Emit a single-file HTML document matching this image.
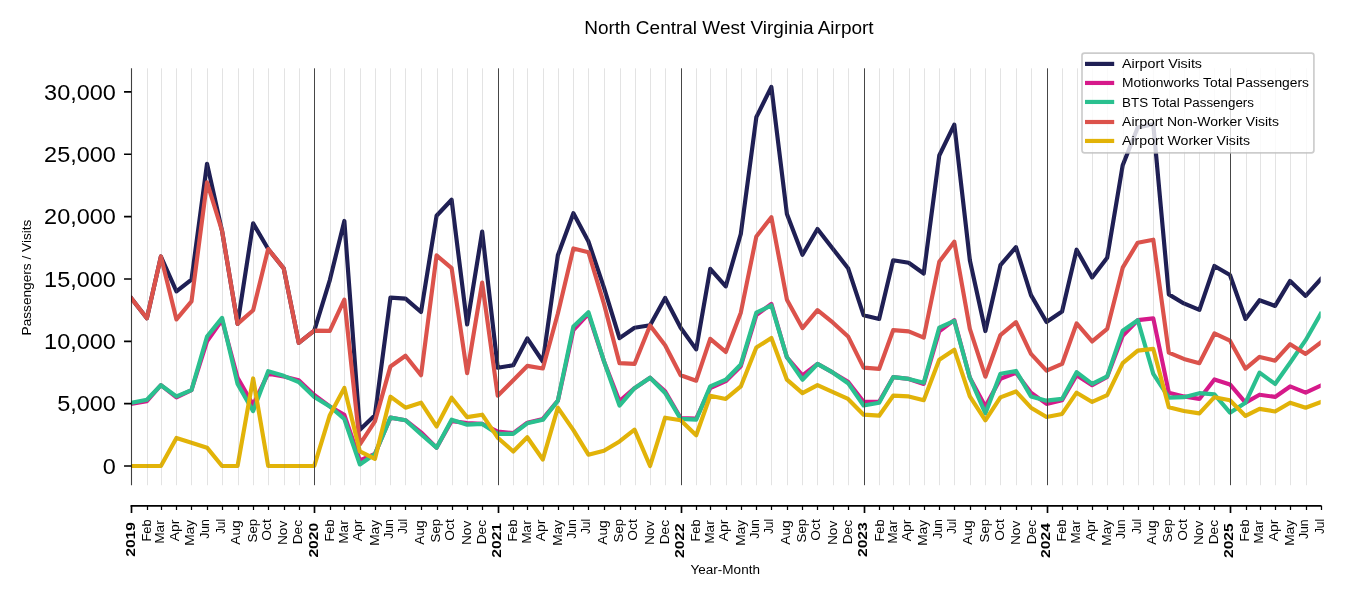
<!DOCTYPE html><html><head><meta charset="utf-8"><title>North Central West Virginia Airport</title>
<style>html,body{margin:0;padding:0;background:#fff;}svg{display:block;will-change:transform;}text{font-family:"Liberation Sans",sans-serif;fill:#000;}</style></head><body>
<svg width="1350" height="600" viewBox="0 0 1350 600">
<rect x="0" y="0" width="1350" height="600" fill="#fff"/>
<defs><clipPath id="ax"><rect x="131.34" y="68.3" width="1189.3476" height="416.9"/></clipPath></defs>
<g clip-path="url(#ax)" fill="none" stroke-width="4.17" stroke-linejoin="round" stroke-linecap="square">
<polyline points="131.34,298.26 146.88,318.21 160.91,256.48 176.45,291.40 191.48,279.68 207.02,163.83 222.06,230.92 237.59,323.82 253.13,223.31 268.17,249.00 283.70,268.33 298.74,342.78 314.28,330.68 329.82,280.05 344.35,220.94 359.89,429.82 374.92,415.23 390.46,297.57 405.50,298.63 421.03,311.98 436.57,215.71 451.61,199.75 467.14,324.45 482.18,231.67 497.72,367.72 513.25,365.22 527.29,338.41 542.83,361.48 557.86,255.24 573.40,213.21 588.43,241.52 603.97,287.66 619.51,338.16 634.54,327.69 650.08,325.19 665.12,297.95 680.66,327.69 696.19,349.39 710.23,268.83 725.76,286.41 740.80,234.04 756.34,117.19 771.37,86.89 786.91,213.96 802.45,254.74 817.48,228.93 833.02,249.00 848.06,268.21 863.59,315.22 879.13,318.96 893.16,260.23 908.70,262.72 923.74,273.44 939.27,155.48 954.31,124.68 969.85,260.23 985.38,331.05 1000.42,265.21 1015.96,247.13 1030.99,295.14 1046.53,321.95 1062.07,311.48 1076.60,249.69 1092.14,277.43 1107.18,257.73 1122.71,165.20 1137.75,127.42 1153.29,124.30 1168.82,294.39 1183.86,303.43 1199.40,309.86 1214.43,265.96 1229.97,274.94 1245.51,318.96 1259.54,300.18 1275.08,305.93 1290.11,280.93 1305.65,295.89 1320.69,279.30" stroke="#1f1f54"/>
<polyline points="131.34,403.94 146.88,401.14 160.91,385.19 176.45,397.39 191.48,390.19 207.02,341.28 222.06,320.08 237.59,377.68 253.13,404.69 268.17,373.70 283.70,376.43 298.74,380.19 314.28,394.90 329.82,406.44 344.35,414.85 359.89,460.37 374.92,453.95 390.46,417.68 405.50,420.19 421.03,432.31 436.57,447.69 451.61,421.09 467.14,422.96 482.18,423.94 497.72,431.69 513.25,433.20 527.29,422.68 542.83,418.94 557.86,400.69 573.40,330.06 588.43,313.85 603.97,361.23 619.51,401.14 634.54,388.19 650.08,377.68 665.12,391.41 680.66,417.97 696.19,418.59 710.23,388.04 725.76,381.18 740.80,366.22 756.34,315.19 771.37,303.94 786.91,357.49 802.45,375.32 817.48,363.94 833.02,372.68 848.06,381.81 863.59,401.68 879.13,401.76 893.16,377.18 908.70,378.93 923.74,383.93 939.27,331.30 954.31,320.08 969.85,377.68 985.38,406.44 1000.42,378.69 1015.96,372.69 1030.99,392.68 1046.53,403.93 1062.07,400.19 1076.60,375.19 1092.14,385.19 1107.18,376.82 1122.71,335.68 1137.75,320.18 1153.29,318.43 1168.82,392.68 1183.86,396.43 1199.40,398.93 1214.43,379.44 1229.97,384.44 1245.51,402.68 1259.54,394.69 1275.08,396.93 1290.11,386.43 1305.65,392.68 1320.69,385.69" stroke="#d6198a"/>
<polyline points="131.34,402.69 146.88,399.69 160.91,385.19 176.45,396.43 191.48,390.19 207.02,336.54 222.06,317.84 237.59,383.93 253.13,411.11 268.17,371.21 283.70,375.82 298.74,382.06 314.28,397.02 329.82,406.44 344.35,418.97 359.89,464.48 374.92,453.95 390.46,417.68 405.50,420.19 421.03,434.18 436.57,447.69 451.61,419.69 467.14,424.69 482.18,423.94 497.72,433.93 513.25,433.81 527.29,423.33 542.83,419.84 557.86,400.69 573.40,326.44 588.43,312.19 603.97,361.23 619.51,405.63 634.54,388.19 650.08,377.68 665.12,392.91 680.66,418.94 696.19,419.69 710.23,386.43 725.76,379.69 740.80,364.44 756.34,312.69 771.37,305.44 786.91,357.18 802.45,379.69 817.48,363.94 833.02,372.68 848.06,383.18 863.59,405.44 879.13,402.68 893.16,377.18 908.70,378.93 923.74,382.68 939.27,327.69 954.31,320.94 969.85,377.68 985.38,413.43 1000.42,373.70 1015.96,370.93 1030.99,396.43 1046.53,400.69 1062.07,398.93 1076.60,372.18 1092.14,383.94 1107.18,376.43 1122.71,330.68 1137.75,320.18 1153.29,373.94 1168.82,397.68 1183.86,397.18 1199.40,393.18 1214.43,394.44 1229.97,412.68 1245.51,402.68 1259.54,372.68 1275.08,383.93 1290.11,362.68 1305.65,340.18 1320.69,313.93" stroke="#2ac08f"/>
<polyline points="131.34,298.26 146.88,318.21 160.91,256.48 176.45,319.43 191.48,301.43 207.02,182.29 222.06,230.92 237.59,323.82 253.13,310.23 268.17,249.00 283.70,268.33 298.74,342.78 314.28,330.68 329.82,330.81 344.35,299.68 359.89,444.41 374.92,421.44 390.46,366.43 405.50,355.68 421.03,375.19 436.57,255.44 451.61,268.18 467.14,373.19 482.18,282.68 497.72,395.69 513.25,380.19 527.29,365.93 542.83,368.44 557.86,313.47 573.40,248.44 588.43,252.18 603.97,303.87 619.51,363.19 634.54,363.94 650.08,325.44 665.12,345.20 680.66,375.19 696.19,380.69 710.23,338.79 725.76,351.93 740.80,312.69 756.34,236.43 771.37,217.18 786.91,299.69 802.45,328.06 817.48,310.19 833.02,322.70 848.06,336.44 863.59,367.68 879.13,368.94 893.16,330.19 908.70,331.44 923.74,337.69 939.27,261.85 954.31,241.68 969.85,328.93 985.38,376.69 1000.42,335.05 1015.96,322.18 1030.99,353.94 1046.53,370.68 1062.07,363.94 1076.60,323.44 1092.14,341.43 1107.18,328.93 1122.71,267.68 1137.75,242.68 1153.29,239.69 1168.82,352.68 1183.86,358.94 1199.40,363.18 1214.43,333.44 1229.97,340.68 1245.51,368.69 1259.54,356.93 1275.08,360.68 1290.11,344.19 1305.65,353.94 1320.69,342.68" stroke="#dc524b"/>
<polyline points="131.34,465.98 146.88,465.98 160.91,465.98 176.45,437.95 191.48,442.69 207.02,447.69 222.06,465.98 237.59,465.98 253.13,378.44 268.17,465.98 283.70,465.98 298.74,465.98 314.28,465.98 329.82,415.23 344.35,387.94 359.89,451.39 374.92,458.93 390.46,396.68 405.50,407.68 421.03,402.69 436.57,426.44 451.61,397.68 467.14,417.18 482.18,414.69 497.72,437.70 513.25,451.44 527.29,437.19 542.83,459.45 557.86,407.68 573.40,430.19 588.43,454.69 603.97,450.69 619.51,441.44 634.54,429.69 650.08,465.98 665.12,417.70 680.66,420.19 696.19,435.19 710.23,395.69 725.76,398.94 740.80,386.43 756.34,347.51 771.37,337.94 786.91,379.69 802.45,393.19 817.48,385.19 833.02,392.18 848.06,398.94 863.59,414.69 879.13,415.69 893.16,395.69 908.70,396.43 923.74,400.19 939.27,359.69 954.31,349.68 969.85,396.43 985.38,420.34 1000.42,397.39 1015.96,391.43 1030.99,407.68 1046.53,416.94 1062.07,413.93 1076.60,392.68 1092.14,401.93 1107.18,395.19 1122.71,363.18 1137.75,350.68 1153.29,348.94 1168.82,407.18 1183.86,410.94 1199.40,413.43 1214.43,397.18 1229.97,400.19 1245.51,415.94 1259.54,408.93 1275.08,411.44 1290.11,402.68 1305.65,407.68 1320.69,402.18" stroke="#e2b308"/>
</g>
<path d="M147.5 68.3V485.2M161.5 68.3V485.2M176.5 68.3V485.2M191.5 68.3V485.2M207.5 68.3V485.2M222.5 68.3V485.2M238.5 68.3V485.2M253.5 68.3V485.2M268.5 68.3V485.2M284.5 68.3V485.2M299.5 68.3V485.2M330.5 68.3V485.2M344.5 68.3V485.2M360.5 68.3V485.2M375.5 68.3V485.2M390.5 68.3V485.2M405.5 68.3V485.2M421.5 68.3V485.2M437.5 68.3V485.2M452.5 68.3V485.2M467.5 68.3V485.2M482.5 68.3V485.2M513.5 68.3V485.2M527.5 68.3V485.2M543.5 68.3V485.2M558.5 68.3V485.2M573.5 68.3V485.2M588.5 68.3V485.2M604.5 68.3V485.2M620.5 68.3V485.2M635.5 68.3V485.2M650.5 68.3V485.2M665.5 68.3V485.2M696.5 68.3V485.2M710.5 68.3V485.2M726.5 68.3V485.2M741.5 68.3V485.2M756.5 68.3V485.2M771.5 68.3V485.2M787.5 68.3V485.2M802.5 68.3V485.2M817.5 68.3V485.2M833.5 68.3V485.2M848.5 68.3V485.2M879.5 68.3V485.2M893.5 68.3V485.2M909.5 68.3V485.2M924.5 68.3V485.2M939.5 68.3V485.2M954.5 68.3V485.2M970.5 68.3V485.2M985.5 68.3V485.2M1000.5 68.3V485.2M1016.5 68.3V485.2M1031.5 68.3V485.2M1062.5 68.3V485.2M1077.5 68.3V485.2M1092.5 68.3V485.2M1107.5 68.3V485.2M1123.5 68.3V485.2M1138.5 68.3V485.2M1153.5 68.3V485.2M1169.5 68.3V485.2M1184.5 68.3V485.2M1199.5 68.3V485.2M1214.5 68.3V485.2M1246.5 68.3V485.2M1260.5 68.3V485.2M1275.5 68.3V485.2M1290.5 68.3V485.2M1306.5 68.3V485.2" stroke="#7a7a7a" stroke-opacity="0.21" stroke-width="1" fill="none"/>
<path d="M314.5 68.3V485.2M498.5 68.3V485.2M681.5 68.3V485.2M864.5 68.3V485.2M1047.5 68.3V485.2M1230.5 68.3V485.2" stroke="#464646" stroke-width="1" fill="none"/>
<path d="M131.5 68.3V485.2" stroke="#000" stroke-width="1.1" fill="none" stroke-opacity="0.75"/>
<text x="115.90" y="473.75" font-size="22.70" text-anchor="end" textLength="13.05" lengthAdjust="spacingAndGlyphs">0</text>
<text x="115.90" y="411.40" font-size="22.70" text-anchor="end" textLength="58.74" lengthAdjust="spacingAndGlyphs">5,000</text>
<text x="115.90" y="349.06" font-size="22.70" text-anchor="end" textLength="71.79" lengthAdjust="spacingAndGlyphs">10,000</text>
<text x="115.90" y="286.72" font-size="22.70" text-anchor="end" textLength="71.79" lengthAdjust="spacingAndGlyphs">15,000</text>
<text x="115.90" y="224.37" font-size="22.70" text-anchor="end" textLength="71.79" lengthAdjust="spacingAndGlyphs">20,000</text>
<text x="115.90" y="162.02" font-size="22.70" text-anchor="end" textLength="71.79" lengthAdjust="spacingAndGlyphs">25,000</text>
<text x="115.90" y="99.68" font-size="22.70" text-anchor="end" textLength="71.79" lengthAdjust="spacingAndGlyphs">30,000</text>
<path d="M124.04 466.00H131.34M124.04 403.65H131.34M124.04 341.31H131.34M124.04 278.97H131.34M124.04 216.62H131.34M124.04 154.27H131.34M124.04 91.93H131.34" stroke="#000" stroke-width="1.67" fill="none"/>
<path d="M130.54 505.8H1321.4876" stroke="#000" stroke-width="1.67" fill="none"/>
<path d="M131.50 505.8V513.1M314.50 505.8V513.1M498.50 505.8V513.1M681.50 505.8V513.1M864.50 505.8V513.1M1047.50 505.8V513.1M1230.50 505.8V513.1" stroke="#000" stroke-width="1.67" fill="none"/>
<path d="M147.50 505.8V509.97M161.50 505.8V509.97M176.50 505.8V509.97M191.50 505.8V509.97M207.50 505.8V509.97M222.50 505.8V509.97M238.50 505.8V509.97M253.50 505.8V509.97M268.50 505.8V509.97M284.50 505.8V509.97M299.50 505.8V509.97M330.50 505.8V509.97M344.50 505.8V509.97M360.50 505.8V509.97M375.50 505.8V509.97M390.50 505.8V509.97M405.50 505.8V509.97M421.50 505.8V509.97M437.50 505.8V509.97M452.50 505.8V509.97M467.50 505.8V509.97M482.50 505.8V509.97M513.50 505.8V509.97M527.50 505.8V509.97M543.50 505.8V509.97M558.50 505.8V509.97M573.50 505.8V509.97M588.50 505.8V509.97M604.50 505.8V509.97M620.50 505.8V509.97M635.50 505.8V509.97M650.50 505.8V509.97M665.50 505.8V509.97M696.50 505.8V509.97M710.50 505.8V509.97M726.50 505.8V509.97M741.50 505.8V509.97M756.50 505.8V509.97M771.50 505.8V509.97M787.50 505.8V509.97M802.50 505.8V509.97M817.50 505.8V509.97M833.50 505.8V509.97M848.50 505.8V509.97M879.50 505.8V509.97M893.50 505.8V509.97M909.50 505.8V509.97M924.50 505.8V509.97M939.50 505.8V509.97M954.50 505.8V509.97M970.50 505.8V509.97M985.50 505.8V509.97M1000.50 505.8V509.97M1016.50 505.8V509.97M1031.50 505.8V509.97M1062.50 505.8V509.97M1077.50 505.8V509.97M1092.50 505.8V509.97M1107.50 505.8V509.97M1123.50 505.8V509.97M1138.50 505.8V509.97M1153.50 505.8V509.97M1169.50 505.8V509.97M1184.50 505.8V509.97M1199.50 505.8V509.97M1214.50 505.8V509.97M1246.50 505.8V509.97M1260.50 505.8V509.97M1275.50 505.8V509.97M1290.50 505.8V509.97M1306.50 505.8V509.97M1321.50 505.8V509.97" stroke="#000" stroke-width="1.25" fill="none"/>
<text transform="translate(135.42,522.00) rotate(-90)" font-size="13.25" font-weight="bold" text-anchor="end" textLength="34.79" lengthAdjust="spacingAndGlyphs">2019</text>
<text transform="translate(151.25,519.42) rotate(-90)" font-size="13.12" text-anchor="end" textLength="22.13" lengthAdjust="spacingAndGlyphs">Feb</text>
<text transform="translate(164.49,520.24) rotate(-90)" font-size="13.12" text-anchor="end" textLength="23.58" lengthAdjust="spacingAndGlyphs">Mar</text>
<text transform="translate(178.52,519.74) rotate(-90)" font-size="13.12" text-anchor="end" textLength="21.62" lengthAdjust="spacingAndGlyphs">Apr</text>
<text transform="translate(194.37,519.83) rotate(-90)" font-size="13.12" text-anchor="end" textLength="25.84" lengthAdjust="spacingAndGlyphs">May</text>
<text transform="translate(209.30,519.30) rotate(-90)" font-size="13.12" text-anchor="end" textLength="19.53" lengthAdjust="spacingAndGlyphs">Jun</text>
<text transform="translate(225.02,518.97) rotate(-90)" font-size="13.12" text-anchor="end" textLength="15.08" lengthAdjust="spacingAndGlyphs">Jul</text>
<text transform="translate(239.71,520.25) rotate(-90)" font-size="13.12" text-anchor="end" textLength="24.41" lengthAdjust="spacingAndGlyphs">Aug</text>
<text transform="translate(256.68,518.87) rotate(-90)" font-size="13.12" text-anchor="end" textLength="23.56" lengthAdjust="spacingAndGlyphs">Sep</text>
<text transform="translate(271.06,519.14) rotate(-90)" font-size="13.12" text-anchor="end" textLength="21.61" lengthAdjust="spacingAndGlyphs">Oct</text>
<text transform="translate(286.92,520.68) rotate(-90)" font-size="13.12" text-anchor="end" textLength="24.40" lengthAdjust="spacingAndGlyphs">Nov</text>
<text transform="translate(302.25,520.06) rotate(-90)" font-size="13.12" text-anchor="end" textLength="24.19" lengthAdjust="spacingAndGlyphs">Dec</text>
<text transform="translate(318.47,522.84) rotate(-90)" font-size="13.25" font-weight="bold" text-anchor="end" textLength="34.79" lengthAdjust="spacingAndGlyphs">2020</text>
<text transform="translate(334.19,519.42) rotate(-90)" font-size="13.12" text-anchor="end" textLength="22.13" lengthAdjust="spacingAndGlyphs">Feb</text>
<text transform="translate(347.93,520.24) rotate(-90)" font-size="13.12" text-anchor="end" textLength="23.58" lengthAdjust="spacingAndGlyphs">Mar</text>
<text transform="translate(361.96,519.74) rotate(-90)" font-size="13.12" text-anchor="end" textLength="21.62" lengthAdjust="spacingAndGlyphs">Apr</text>
<text transform="translate(378.81,519.83) rotate(-90)" font-size="13.12" text-anchor="end" textLength="25.84" lengthAdjust="spacingAndGlyphs">May</text>
<text transform="translate(392.74,519.30) rotate(-90)" font-size="13.12" text-anchor="end" textLength="19.53" lengthAdjust="spacingAndGlyphs">Jun</text>
<text transform="translate(407.46,518.97) rotate(-90)" font-size="13.12" text-anchor="end" textLength="15.08" lengthAdjust="spacingAndGlyphs">Jul</text>
<text transform="translate(424.15,520.25) rotate(-90)" font-size="13.12" text-anchor="end" textLength="24.41" lengthAdjust="spacingAndGlyphs">Aug</text>
<text transform="translate(440.12,518.87) rotate(-90)" font-size="13.12" text-anchor="end" textLength="23.56" lengthAdjust="spacingAndGlyphs">Sep</text>
<text transform="translate(454.49,519.14) rotate(-90)" font-size="13.12" text-anchor="end" textLength="21.61" lengthAdjust="spacingAndGlyphs">Oct</text>
<text transform="translate(471.36,520.68) rotate(-90)" font-size="13.12" text-anchor="end" textLength="24.40" lengthAdjust="spacingAndGlyphs">Nov</text>
<text transform="translate(485.68,520.06) rotate(-90)" font-size="13.12" text-anchor="end" textLength="24.19" lengthAdjust="spacingAndGlyphs">Dec</text>
<text transform="translate(500.81,522.94) rotate(-90)" font-size="13.25" font-weight="bold" text-anchor="end" textLength="34.79" lengthAdjust="spacingAndGlyphs">2021</text>
<text transform="translate(516.63,519.42) rotate(-90)" font-size="13.12" text-anchor="end" textLength="22.13" lengthAdjust="spacingAndGlyphs">Feb</text>
<text transform="translate(530.87,520.24) rotate(-90)" font-size="13.12" text-anchor="end" textLength="23.58" lengthAdjust="spacingAndGlyphs">Mar</text>
<text transform="translate(544.90,519.74) rotate(-90)" font-size="13.12" text-anchor="end" textLength="21.62" lengthAdjust="spacingAndGlyphs">Apr</text>
<text transform="translate(561.75,519.83) rotate(-90)" font-size="13.12" text-anchor="end" textLength="25.84" lengthAdjust="spacingAndGlyphs">May</text>
<text transform="translate(575.67,519.30) rotate(-90)" font-size="13.12" text-anchor="end" textLength="19.53" lengthAdjust="spacingAndGlyphs">Jun</text>
<text transform="translate(590.40,518.97) rotate(-90)" font-size="13.12" text-anchor="end" textLength="15.08" lengthAdjust="spacingAndGlyphs">Jul</text>
<text transform="translate(607.09,520.25) rotate(-90)" font-size="13.12" text-anchor="end" textLength="24.41" lengthAdjust="spacingAndGlyphs">Aug</text>
<text transform="translate(623.06,518.87) rotate(-90)" font-size="13.12" text-anchor="end" textLength="23.56" lengthAdjust="spacingAndGlyphs">Sep</text>
<text transform="translate(637.43,519.14) rotate(-90)" font-size="13.12" text-anchor="end" textLength="21.61" lengthAdjust="spacingAndGlyphs">Oct</text>
<text transform="translate(654.30,520.68) rotate(-90)" font-size="13.12" text-anchor="end" textLength="24.40" lengthAdjust="spacingAndGlyphs">Nov</text>
<text transform="translate(668.62,520.06) rotate(-90)" font-size="13.12" text-anchor="end" textLength="24.19" lengthAdjust="spacingAndGlyphs">Dec</text>
<text transform="translate(683.73,523.20) rotate(-90)" font-size="13.25" font-weight="bold" text-anchor="end" textLength="34.79" lengthAdjust="spacingAndGlyphs">2022</text>
<text transform="translate(699.56,519.42) rotate(-90)" font-size="13.12" text-anchor="end" textLength="22.13" lengthAdjust="spacingAndGlyphs">Feb</text>
<text transform="translate(713.81,520.24) rotate(-90)" font-size="13.12" text-anchor="end" textLength="23.58" lengthAdjust="spacingAndGlyphs">Mar</text>
<text transform="translate(727.83,519.74) rotate(-90)" font-size="13.12" text-anchor="end" textLength="21.62" lengthAdjust="spacingAndGlyphs">Apr</text>
<text transform="translate(744.69,519.83) rotate(-90)" font-size="13.12" text-anchor="end" textLength="25.84" lengthAdjust="spacingAndGlyphs">May</text>
<text transform="translate(758.61,519.30) rotate(-90)" font-size="13.12" text-anchor="end" textLength="19.53" lengthAdjust="spacingAndGlyphs">Jun</text>
<text transform="translate(773.34,518.97) rotate(-90)" font-size="13.12" text-anchor="end" textLength="15.08" lengthAdjust="spacingAndGlyphs">Jul</text>
<text transform="translate(790.03,520.25) rotate(-90)" font-size="13.12" text-anchor="end" textLength="24.41" lengthAdjust="spacingAndGlyphs">Aug</text>
<text transform="translate(806.00,518.87) rotate(-90)" font-size="13.12" text-anchor="end" textLength="23.56" lengthAdjust="spacingAndGlyphs">Sep</text>
<text transform="translate(820.37,519.14) rotate(-90)" font-size="13.12" text-anchor="end" textLength="21.61" lengthAdjust="spacingAndGlyphs">Oct</text>
<text transform="translate(837.23,520.68) rotate(-90)" font-size="13.12" text-anchor="end" textLength="24.40" lengthAdjust="spacingAndGlyphs">Nov</text>
<text transform="translate(851.56,520.06) rotate(-90)" font-size="13.12" text-anchor="end" textLength="24.19" lengthAdjust="spacingAndGlyphs">Dec</text>
<text transform="translate(866.66,522.24) rotate(-90)" font-size="13.25" font-weight="bold" text-anchor="end" textLength="34.79" lengthAdjust="spacingAndGlyphs">2023</text>
<text transform="translate(883.50,519.42) rotate(-90)" font-size="13.12" text-anchor="end" textLength="22.13" lengthAdjust="spacingAndGlyphs">Feb</text>
<text transform="translate(896.75,520.24) rotate(-90)" font-size="13.12" text-anchor="end" textLength="23.58" lengthAdjust="spacingAndGlyphs">Mar</text>
<text transform="translate(910.77,519.74) rotate(-90)" font-size="13.12" text-anchor="end" textLength="21.62" lengthAdjust="spacingAndGlyphs">Apr</text>
<text transform="translate(926.63,519.83) rotate(-90)" font-size="13.12" text-anchor="end" textLength="25.84" lengthAdjust="spacingAndGlyphs">May</text>
<text transform="translate(941.55,519.30) rotate(-90)" font-size="13.12" text-anchor="end" textLength="19.53" lengthAdjust="spacingAndGlyphs">Jun</text>
<text transform="translate(956.28,518.97) rotate(-90)" font-size="13.12" text-anchor="end" textLength="15.08" lengthAdjust="spacingAndGlyphs">Jul</text>
<text transform="translate(971.96,520.25) rotate(-90)" font-size="13.12" text-anchor="end" textLength="24.41" lengthAdjust="spacingAndGlyphs">Aug</text>
<text transform="translate(988.94,518.87) rotate(-90)" font-size="13.12" text-anchor="end" textLength="23.56" lengthAdjust="spacingAndGlyphs">Sep</text>
<text transform="translate(1004.31,519.14) rotate(-90)" font-size="13.12" text-anchor="end" textLength="21.61" lengthAdjust="spacingAndGlyphs">Oct</text>
<text transform="translate(1020.17,520.68) rotate(-90)" font-size="13.12" text-anchor="end" textLength="24.40" lengthAdjust="spacingAndGlyphs">Nov</text>
<text transform="translate(1035.50,520.06) rotate(-90)" font-size="13.12" text-anchor="end" textLength="24.19" lengthAdjust="spacingAndGlyphs">Dec</text>
<text transform="translate(1049.58,523.12) rotate(-90)" font-size="13.25" font-weight="bold" text-anchor="end" textLength="34.79" lengthAdjust="spacingAndGlyphs">2024</text>
<text transform="translate(1066.44,519.42) rotate(-90)" font-size="13.12" text-anchor="end" textLength="22.13" lengthAdjust="spacingAndGlyphs">Feb</text>
<text transform="translate(1080.18,520.24) rotate(-90)" font-size="13.12" text-anchor="end" textLength="23.58" lengthAdjust="spacingAndGlyphs">Mar</text>
<text transform="translate(1095.21,519.74) rotate(-90)" font-size="13.12" text-anchor="end" textLength="21.62" lengthAdjust="spacingAndGlyphs">Apr</text>
<text transform="translate(1111.07,519.83) rotate(-90)" font-size="13.12" text-anchor="end" textLength="25.84" lengthAdjust="spacingAndGlyphs">May</text>
<text transform="translate(1125.44,519.45) rotate(-90)" font-size="13.12" text-anchor="end" textLength="19.53" lengthAdjust="spacingAndGlyphs">Jun</text>
<text transform="translate(1140.72,518.97) rotate(-90)" font-size="13.12" text-anchor="end" textLength="15.08" lengthAdjust="spacingAndGlyphs">Jul</text>
<text transform="translate(1156.40,520.25) rotate(-90)" font-size="13.12" text-anchor="end" textLength="24.41" lengthAdjust="spacingAndGlyphs">Aug</text>
<text transform="translate(1172.37,518.87) rotate(-90)" font-size="13.12" text-anchor="end" textLength="23.56" lengthAdjust="spacingAndGlyphs">Sep</text>
<text transform="translate(1186.75,519.14) rotate(-90)" font-size="13.12" text-anchor="end" textLength="21.61" lengthAdjust="spacingAndGlyphs">Oct</text>
<text transform="translate(1202.61,520.68) rotate(-90)" font-size="13.12" text-anchor="end" textLength="24.40" lengthAdjust="spacingAndGlyphs">Nov</text>
<text transform="translate(1217.94,520.06) rotate(-90)" font-size="13.12" text-anchor="end" textLength="24.19" lengthAdjust="spacingAndGlyphs">Dec</text>
<text transform="translate(1233.12,523.26) rotate(-90)" font-size="13.25" font-weight="bold" text-anchor="end" textLength="34.79" lengthAdjust="spacingAndGlyphs">2025</text>
<text transform="translate(1248.88,519.42) rotate(-90)" font-size="13.12" text-anchor="end" textLength="22.13" lengthAdjust="spacingAndGlyphs">Feb</text>
<text transform="translate(1263.12,520.24) rotate(-90)" font-size="13.12" text-anchor="end" textLength="23.58" lengthAdjust="spacingAndGlyphs">Mar</text>
<text transform="translate(1278.15,519.74) rotate(-90)" font-size="13.12" text-anchor="end" textLength="21.62" lengthAdjust="spacingAndGlyphs">Apr</text>
<text transform="translate(1294.00,519.83) rotate(-90)" font-size="13.12" text-anchor="end" textLength="25.84" lengthAdjust="spacingAndGlyphs">May</text>
<text transform="translate(1308.38,519.45) rotate(-90)" font-size="13.12" text-anchor="end" textLength="19.53" lengthAdjust="spacingAndGlyphs">Jun</text>
<text transform="translate(1323.65,518.97) rotate(-90)" font-size="13.12" text-anchor="end" textLength="15.08" lengthAdjust="spacingAndGlyphs">Jul</text>
<text transform="translate(31.05,277.51) rotate(-90)" font-size="13.12" text-anchor="middle" textLength="115.86" lengthAdjust="spacingAndGlyphs">Passengers / Visits</text>
<text x="725.26" y="573.63" font-size="13.12" text-anchor="middle" textLength="69.35" lengthAdjust="spacingAndGlyphs">Year-Month</text>
<text x="584.2" y="33.9" font-size="17.5" textLength="289.41" lengthAdjust="spacingAndGlyphs">North Central West Virginia Airport</text>
<rect x="1082.0" y="53.07" width="231.90" height="99.76" rx="2.5" ry="2.5" fill="#fff" fill-opacity="0.8" stroke="#bfbfbf" stroke-opacity="0.8" stroke-width="1.67"/>
<path d="M1087.1 63.9H1112.1" stroke="#1f1f54" stroke-width="4.17" stroke-linecap="square" fill="none"/>
<text x="1122.1" y="68.30" font-size="13.12" textLength="79.91" lengthAdjust="spacingAndGlyphs">Airport Visits</text>
<path d="M1087.1 82.95H1112.1" stroke="#d6198a" stroke-width="4.17" stroke-linecap="square" fill="none"/>
<text x="1122.1" y="87.40" font-size="13.12" textLength="186.83" lengthAdjust="spacingAndGlyphs">Motionworks Total Passengers</text>
<path d="M1087.1 101.95H1112.1" stroke="#2ac08f" stroke-width="4.17" stroke-linecap="square" fill="none"/>
<text x="1122.1" y="106.50" font-size="13.12" textLength="131.84" lengthAdjust="spacingAndGlyphs">BTS Total Passengers</text>
<path d="M1087.1 122.0H1112.1" stroke="#dc524b" stroke-width="4.17" stroke-linecap="square" fill="none"/>
<text x="1122.1" y="125.60" font-size="13.12" textLength="156.84" lengthAdjust="spacingAndGlyphs">Airport Non-Worker Visits</text>
<path d="M1087.1 140.95H1112.1" stroke="#e2b308" stroke-width="4.17" stroke-linecap="square" fill="none"/>
<text x="1122.1" y="144.70" font-size="13.12" textLength="127.92" lengthAdjust="spacingAndGlyphs">Airport Worker Visits</text>
</svg></body></html>
